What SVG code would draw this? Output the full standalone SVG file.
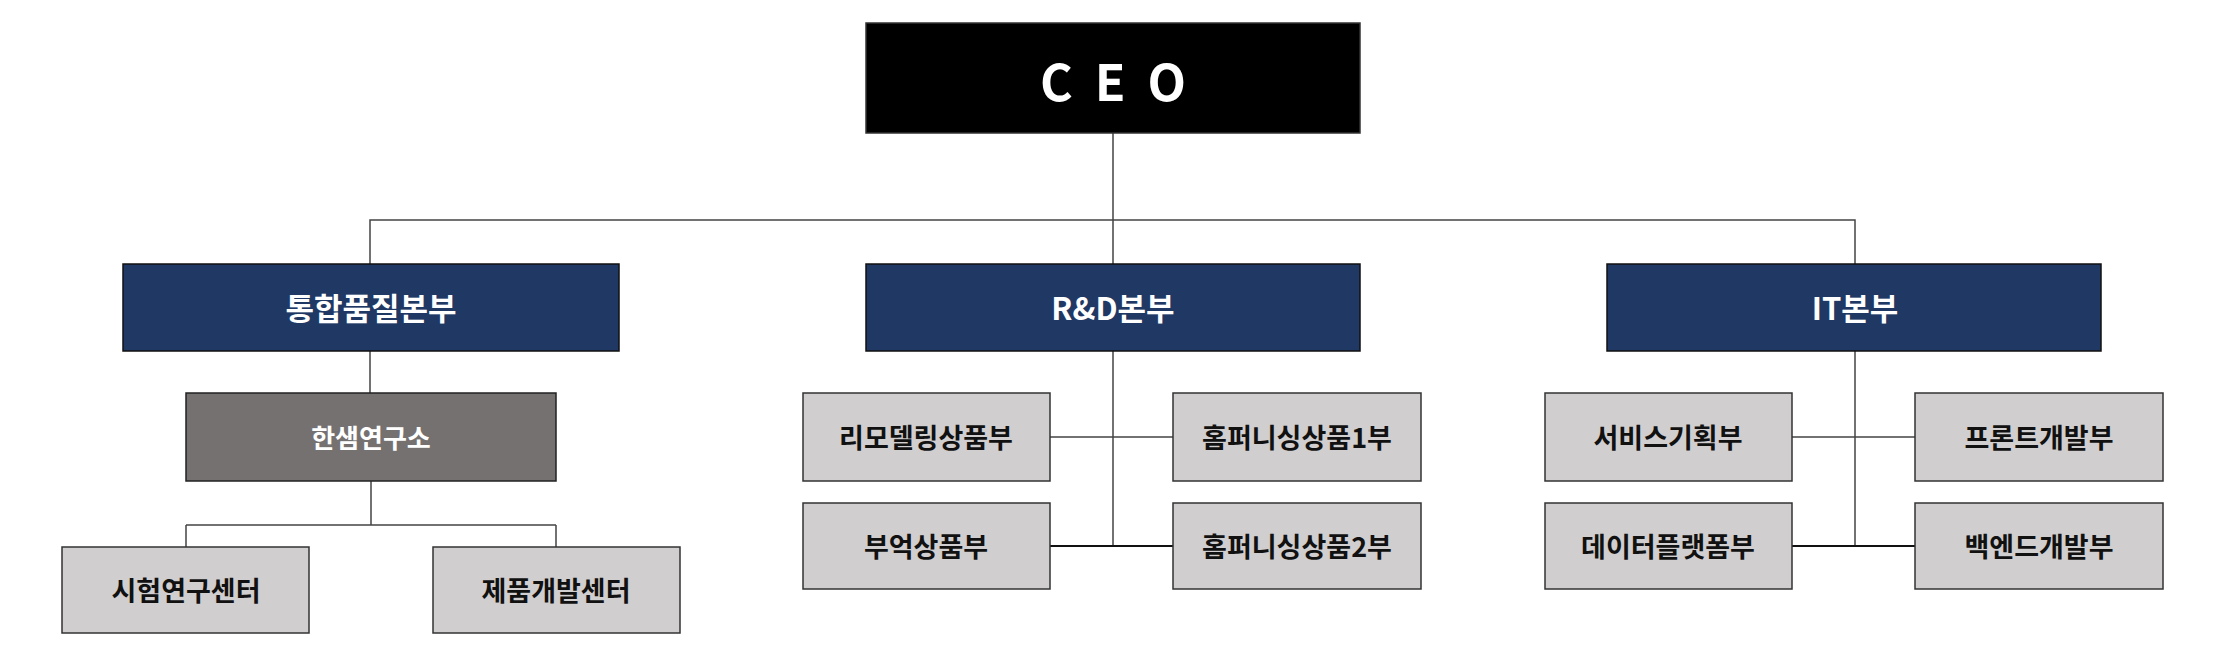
<svg xmlns="http://www.w3.org/2000/svg" width="2226" height="657" viewBox="0 0 2226 657">
<style>
text{font-family:"Noto Sans CJK KR","Noto Sans",sans-serif;font-weight:bold;text-anchor:middle;dominant-baseline:central}
.ceo rect{fill:#000;stroke:#333;stroke-width:1.5}
.hq rect{fill:#203864;stroke:#111;stroke-width:1.5}
.hq text{fill:#fff;font-size:31px}
.lab rect{fill:#767171;stroke:#222;stroke-width:1.5}
.lab text{fill:#fff;font-size:26px}
.sub rect{fill:#d0cece;stroke:#333;stroke-width:1.5}
.sub text{fill:#111;font-size:27px}
.c{fill:none;stroke:#444;stroke-width:1.5}
.c2{fill:none;stroke:#111;stroke-width:2}
</style>
<rect width="2226" height="657" fill="#fff"/>
<g id="connectors">
<path class="c" d="M1113 133V264M370 264V220H1855V264"/>
<path class="c" d="M370 351V393M371 481V525M186 525H556M186 525V547M556 525V547"/>
<path class="c" d="M1113 351V546M1050 437H1173"/>
<path class="c2" d="M1050 546H1173"/>
<path class="c" d="M1855 351V546M1792 437H1915"/>
<path class="c2" d="M1792 546H1915"/>
</g>
<g id="ceo" class="ceo"><rect x="866" y="23" width="494" height="110"/><text x="1113" y="79" fill="#fff" font-size="50" letter-spacing="22" dx="11">CEO</text></g>
<g id="hq1" class="hq"><rect x="123" y="264" width="496" height="87"/><text x="371" y="306">통합품질본부</text></g>
<g id="hq2" class="hq"><rect x="866" y="264" width="494" height="87"/><text x="1113" y="306">R&amp;D본부</text></g>
<g id="hq3" class="hq"><rect x="1607" y="264" width="494" height="87"/><text x="1855" y="306">IT본부</text></g>
<g id="lab" class="lab"><rect x="186" y="393" width="370" height="88"/><text x="371" y="436">한샘연구소</text></g>
<g id="s1" class="sub"><rect x="62" y="547" width="247" height="86"/><text x="186" y="589">시험연구센터</text></g>
<g id="s2" class="sub"><rect x="433" y="547" width="247" height="86"/><text x="556" y="589">제품개발센터</text></g>
<g id="r1" class="sub"><rect x="803" y="393" width="247" height="88"/><text x="926" y="436">리모델링상품부</text></g>
<g id="r2" class="sub"><rect x="803" y="503" width="247" height="86"/><text x="926" y="545">부억상품부</text></g>
<g id="r3" class="sub"><rect x="1173" y="393" width="248" height="88"/><text x="1297" y="436">홈퍼니싱상품1부</text></g>
<g id="r4" class="sub"><rect x="1173" y="503" width="248" height="86"/><text x="1297" y="545">홈퍼니싱상품2부</text></g>
<g id="i1" class="sub"><rect x="1545" y="393" width="247" height="88"/><text x="1668" y="436">서비스기획부</text></g>
<g id="i2" class="sub"><rect x="1545" y="503" width="247" height="86"/><text x="1668" y="545">데이터플랫폼부</text></g>
<g id="i3" class="sub"><rect x="1915" y="393" width="248" height="88"/><text x="2039" y="436">프론트개발부</text></g>
<g id="i4" class="sub"><rect x="1915" y="503" width="248" height="86"/><text x="2039" y="545">백엔드개발부</text></g>
</svg>
